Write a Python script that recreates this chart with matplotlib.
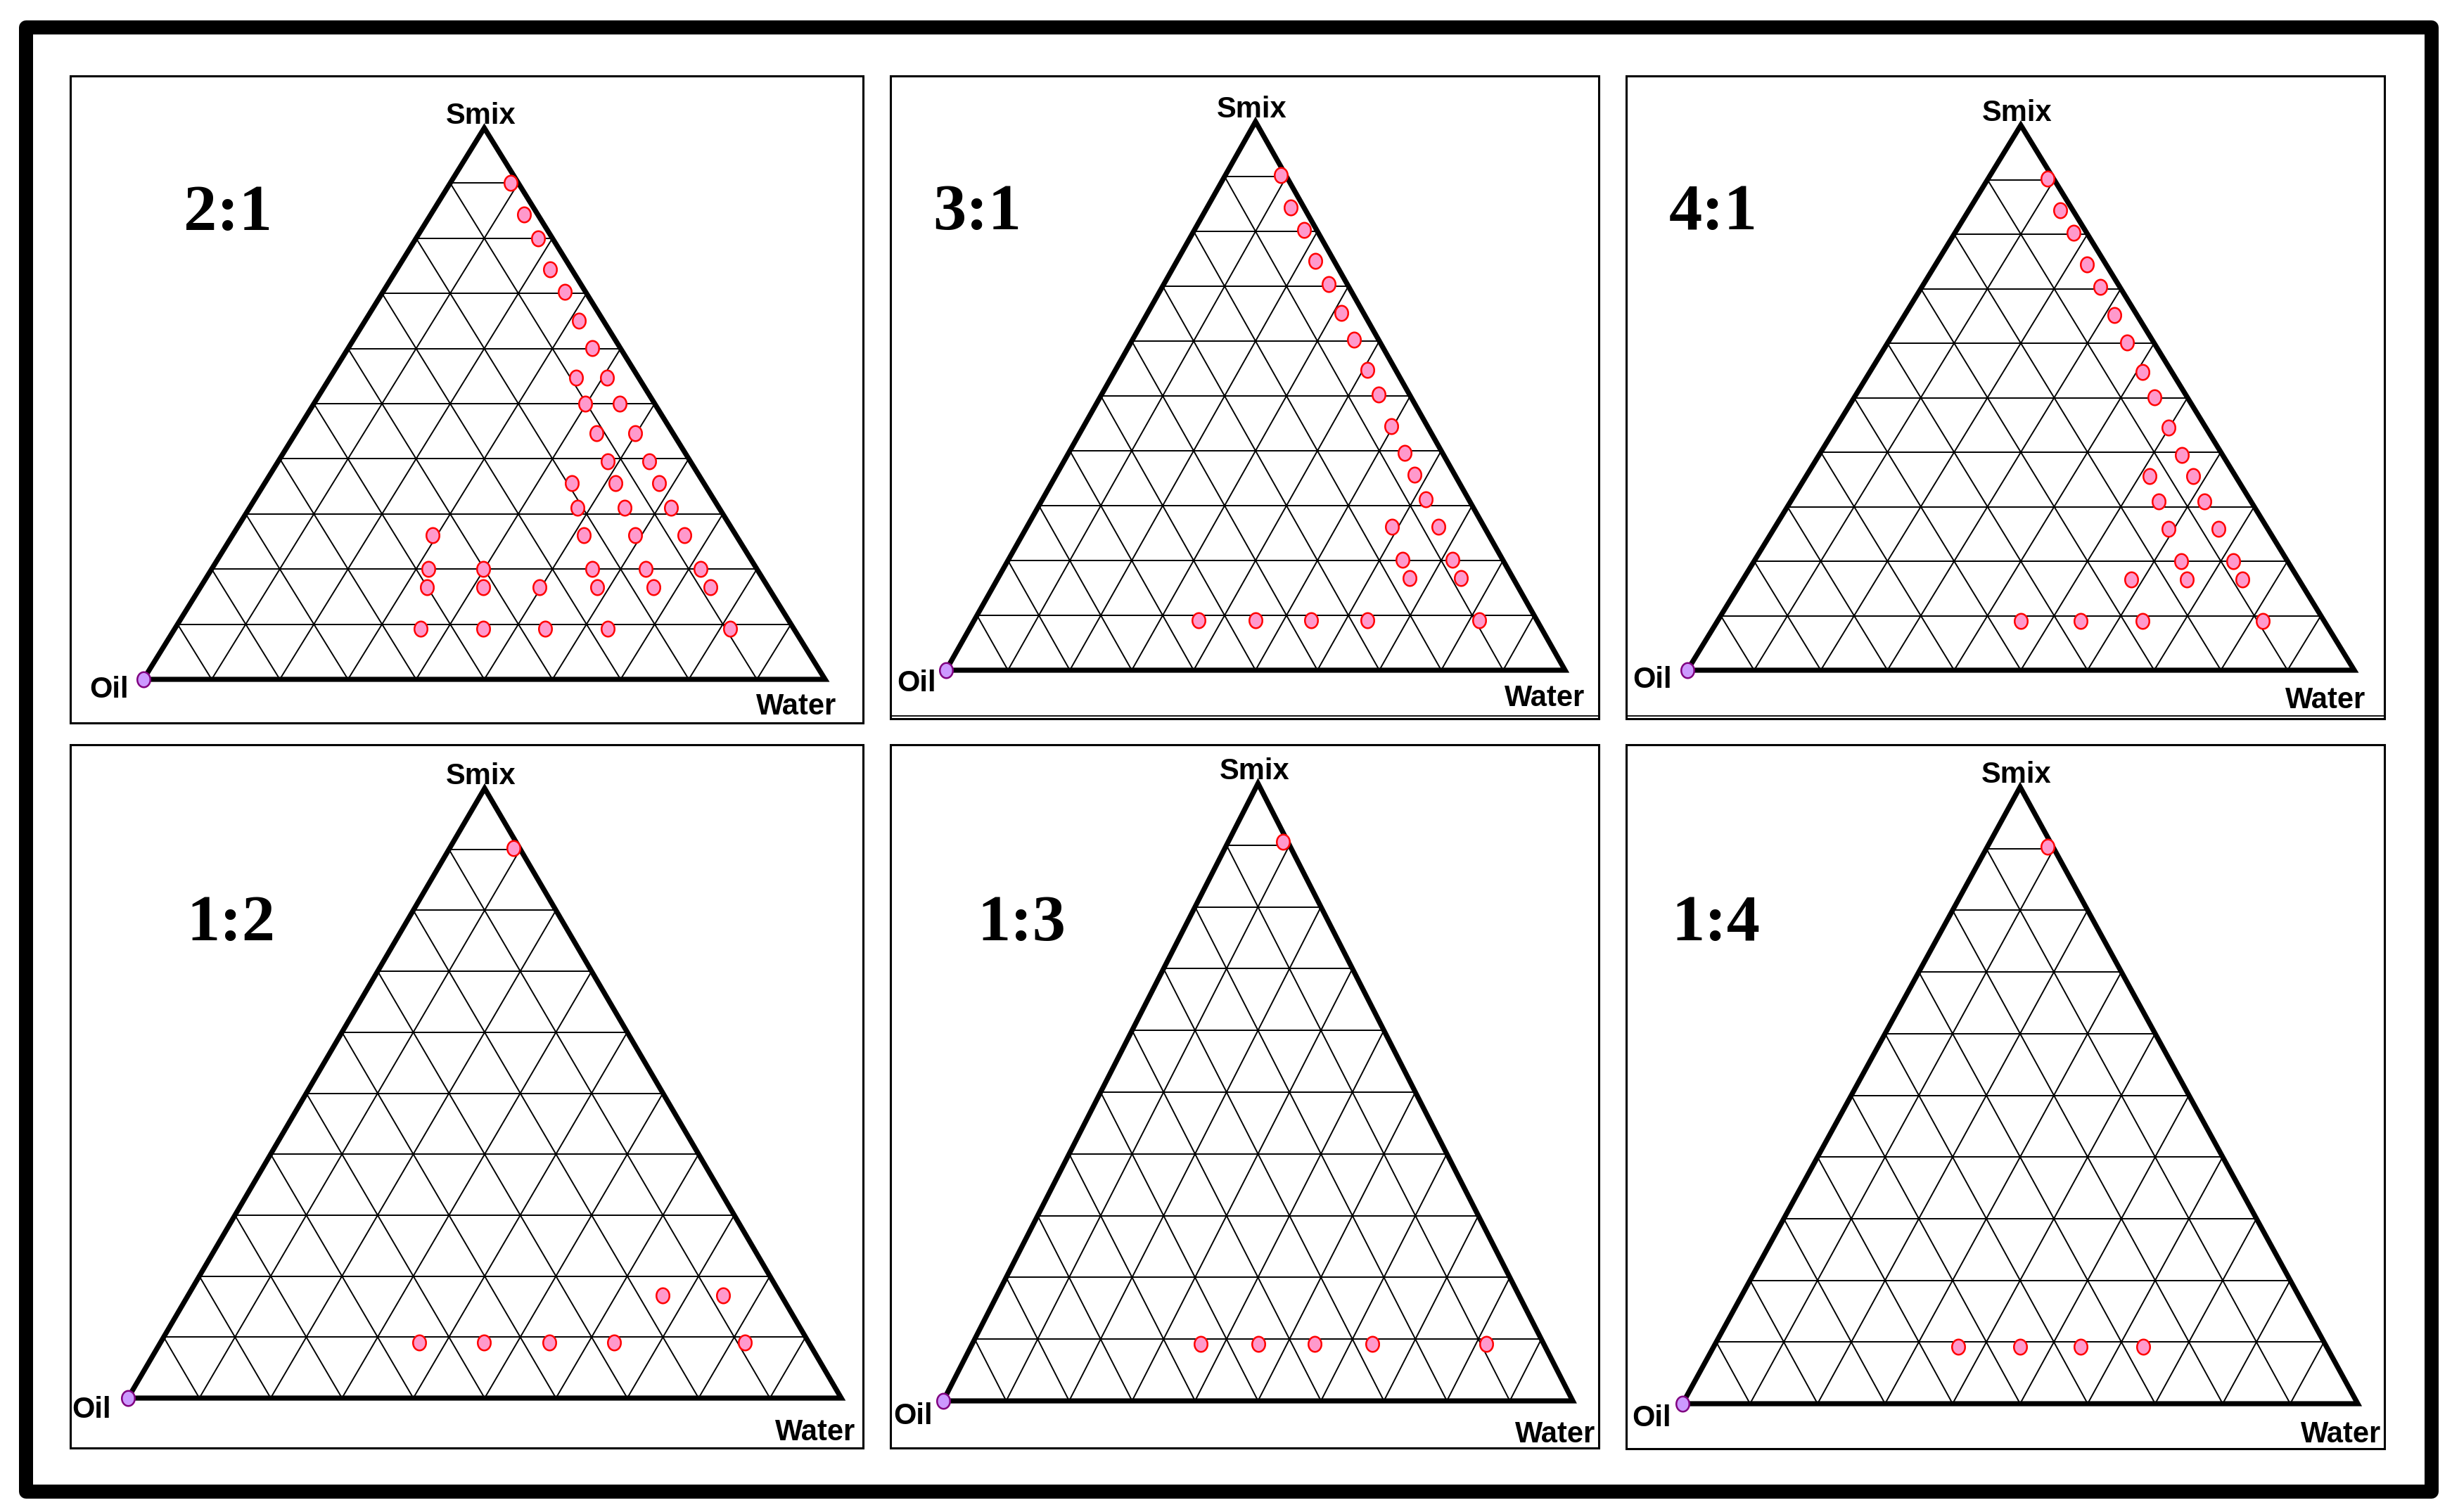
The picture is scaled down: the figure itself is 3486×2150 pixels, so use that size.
import numpy as np
import matplotlib
matplotlib.use('Agg')
import matplotlib.pyplot as plt
from matplotlib.patches import Rectangle

W, H, DPI = 3486, 2150, 100

# ratio labels (Smix ratio) of the six diagrams
ratios = ['2:1', '3:1', '4:1', '1:2', '1:3', '1:4']

# points: % Smix and % Water (oil = rest)
smix_21 = [90.0, 84.3, 80.0, 74.4, 70.3, 65.0, 60.1, 54.7, 54.7, 50.0, 50.0, 44.6, 44.6,
           39.6, 39.6, 35.6, 35.6, 35.6, 31.1, 31.1, 31.1, 26.2, 26.2, 26.2, 26.2,
           20.0, 20.0, 20.0, 20.0, 20.0, 16.7, 16.7, 16.7, 16.7, 16.7, 16.7,
           9.2, 9.2, 9.2, 9.2, 9.2]
water_21 = [8.9, 13.7, 17.9, 22.5, 26.7, 31.4, 35.8, 36.1, 40.7, 39.8, 44.9, 44.2, 49.8,
            48.3, 54.4, 45.0, 51.4, 57.8, 48.1, 55.0, 61.9, 29.3, 51.5, 59.0, 66.3,
            31.8, 39.8, 55.8, 63.7, 71.7, 33.2, 41.5, 49.8, 58.2, 66.5, 74.8,
            36.1, 45.2, 54.3, 63.5, 81.5]

smix_31 = [90.3, 84.4, 80.2, 74.6, 70.4, 65.1, 60.2, 54.7, 50.2, 44.5, 39.6, 35.6, 31.1,
           26.1, 26.1, 20.1, 20.1, 16.8, 16.8, 9.1, 9.1, 9.1, 9.1, 9.1]
water_31 = [8.9, 13.5, 17.7, 22.4, 26.6, 31.3, 35.8, 40.7, 44.8, 49.7, 54.3, 57.9, 61.9,
            59.0, 66.5, 63.7, 71.8, 66.5, 74.8, 36.3, 45.4, 54.4, 63.5, 81.6]

smix_41 = [90.2, 84.4, 80.2, 74.4, 70.3, 65.1, 60.1, 54.7, 50.1, 44.5, 39.5, 35.6, 35.6,
           31.0, 31.0, 26.0, 26.0, 20.0, 20.0, 16.6, 16.6, 16.6, 9.0, 9.0, 9.0, 9.0]
water_41 = [8.9, 13.7, 17.8, 22.7, 26.8, 31.5, 35.9, 40.9, 45.0, 49.9, 54.4, 51.5, 58.0,
            55.2, 62.0, 59.2, 66.6, 64.0, 71.9, 58.3, 66.6, 74.9, 45.5, 54.5, 63.7, 81.8]

smix_12 = [90.2, 16.8, 16.8, 9.1, 9.1, 9.1, 9.1, 9.1]
water_12 = [8.9, 66.6, 75.0, 36.3, 45.4, 54.5, 63.6, 81.9]

smix_13 = [90.5, 9.2, 9.2, 9.2, 9.2, 9.2]
water_13 = [8.7, 36.3, 45.4, 54.4, 63.6, 81.7]

smix_14 = [90.3, 9.2, 9.2, 9.2, 9.2]
water_14 = [8.9, 36.2, 45.4, 54.4, 63.6]

smix_sets = [smix_21, smix_31, smix_41, smix_12, smix_13, smix_14]
water_sets = [water_21, water_31, water_41, water_12, water_13, water_14]

# layout in pixels: panel boxes and triangles (left x, right x, base y, apex y)
boxes = [(100, 1227, 108, 1028), (1266, 2273, 108, 1022), (2312, 3390, 108, 1022),
         (100, 1227, 1059, 2059), (1266, 2273, 1059, 2059), (2312, 3390, 1059, 2060)]
tris = [(204, 1173, 966, 182), (1345, 2225, 953, 173), (2399, 3347, 953, 178),
        (182, 1196, 1988, 1121), (1341, 2236, 1992, 1114), (2392, 3352, 1996, 1119)]
# label anchors (pixels): ratio centre/baseline, Oil right/baseline, Water right/baseline
ratio_pos = [(324, 327), (1389, 326), (2436, 326), (328, 1337), (1452, 1337), (2439, 1337)]
oil_pos = [(183, 992), (1331, 983), (2377, 978), (158, 2016), (1326, 2025), (2376, 2028)]
water_pos = [(1189, 1016), (2253, 1004), (3363, 1007), (1216, 2048), (2268, 2051), (3385, 2051)]

SANS = ['Liberation Sans', 'DejaVu Sans']
SERIF = ['Liberation Serif', 'DejaVu Serif']

t = np.linspace(0, 2 * np.pi, 50)
ellipse = np.column_stack([0.86 * np.cos(t), np.sin(t)])


def fx(x):
    return x / W


def fy(y):
    return 1 - y / H


def to_xy(smix, water):
    s = np.asarray(smix, dtype=float) / 100
    w = np.asarray(water, dtype=float) / 100
    return w + s / 2, s


fig = plt.figure(figsize=(W / DPI, H / DPI), dpi=DPI)

# thick outer frame
fig.patches.append(Rectangle((fx(37), fy(2121)), fx(3457) - fx(37), fy(39) - fy(2121),
                             transform=fig.transFigure, fill=False, ec='black', lw=14.4,
                             joinstyle='round'))

for i in range(6):
    bx0, bx1, by0, by1 = boxes[i]
    fig.patches.append(Rectangle((fx(bx0), fy(by1)), fx(bx1) - fx(bx0), fy(by0) - fy(by1),
                                 transform=fig.transFigure, fill=False, ec='black', lw=2.2))
    if i in (1, 2):
        # the double bottom line on these two boxes
        fig.lines.append(plt.Line2D([fx(bx0), fx(bx1)], [fy(by1 - 4.5), fy(by1 - 4.5)],
                                    transform=fig.transFigure, color='black', lw=1.3))

    tx0, tx1, tb, ta = tris[i]
    ax = fig.add_axes([fx(tx0), fy(tb), fx(tx1) - fx(tx0), (tb - ta) / H])
    ax.set_xlim(0, 1)
    ax.set_ylim(0, 1)
    ax.axis('off')

    # 10 % grid
    for k in range(10, 100, 10):
        gx, gy = to_xy([k, k], [0, 100 - k])
        ax.plot(gx, gy, color='black', lw=1.4, zorder=1)
        gx, gy = to_xy([0, 100 - k], [k, k])
        ax.plot(gx, gy, color='black', lw=1.4, zorder=1)
        gx, gy = to_xy([0, 100 - k], [100 - k, 0])
        ax.plot(gx, gy, color='black', lw=1.4, zorder=1)

    # outline
    ox, oy = to_xy([0, 0, 100, 0], [0, 100, 0, 0])
    ax.plot(ox, oy, color='black', lw=5.2, solid_joinstyle='miter', zorder=2, clip_on=False)

    px, py = to_xy(smix_sets[i], water_sets[i])
    ax.plot(px, py, ls='none', marker=ellipse, ms=15.5, mfc='#ff99cc', mec='#ff0000',
            mew=1.8, zorder=3, clip_on=False)
    vx, vy = to_xy([0], [0])
    ax.plot(vx, vy, ls='none', marker=ellipse, ms=15.5, mfc='#cc99ff', mec='#800080',
            mew=1.8, zorder=4, clip_on=False)

    # labels
    fig.text(fx((tx0 + tx1) / 2 - 5), fy(ta - 6), 'Smix', ha='center', va='baseline',
             fontsize=30, fontweight='bold', family=SANS)
    fig.text(fx(oil_pos[i][0]), fy(oil_pos[i][1]), 'Oil', ha='right', va='baseline',
             fontsize=30, fontweight='bold', family=SANS)
    fig.text(fx(water_pos[i][0]), fy(water_pos[i][1]), 'Water', ha='right', va='baseline',
             fontsize=30, fontweight='bold', family=SANS)
    fig.text(fx(ratio_pos[i][0]), fy(ratio_pos[i][1]), ratios[i], ha='center', va='baseline',
             fontsize=68, fontweight='bold', family=SERIF)

fig.savefig('out.png', dpi=DPI, facecolor='white')
